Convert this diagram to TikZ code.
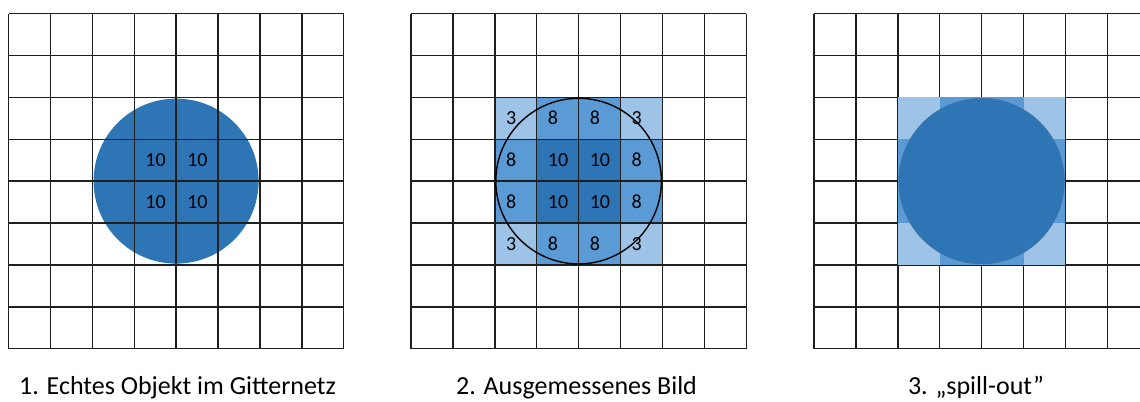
\documentclass[tikz,border=0pt]{standalone}
\usepackage{fontspec}
\setmainfont{Carlito}
\definecolor{dkblue}{HTML}{2E75B6}
\definecolor{mdblue}{HTML}{5B9BD5}
\definecolor{ltblue}{HTML}{9DC3E6}
\definecolor{rimblue}{HTML}{4472A0}
\newcommand\cs{41.9}
\newcommand\gy{13.5}
\newcommand\mygrid[1]{%
  \foreach \i in {0,...,8} {%
    \draw[gridline] ({#1+\i*\cs},\gy) -- ({#1+\i*\cs},{\gy+8*\cs});
    \draw[gridline] (#1,{\gy+\i*\cs}) -- ({#1+8*\cs},{\gy+\i*\cs});
  }}
\newcommand\mycell[4]{\fill[#4] ({#1+#2*\cs},{\gy+#3*\cs}) rectangle ++(\cs,\cs);}
\newcommand\myblock[1]{%
  \fill[mdblue] ({#1+2*\cs},{\gy+2*\cs}) rectangle ++({4*\cs},{4*\cs});
  \mycell{#1}{2}{2}{ltblue}\mycell{#1}{5}{2}{ltblue}
  \mycell{#1}{2}{5}{ltblue}\mycell{#1}{5}{5}{ltblue}
  \fill[dkblue] ({#1+3*\cs},{\gy+3*\cs}) rectangle ++({2*\cs},{2*\cs});}
\begin{document}
\begin{tikzpicture}[x=1bp,y=-1bp,
  gridline/.style={line width=1.4bp,draw=black!88},
  num/.style={anchor=base west,inner sep=0pt,font=\fontsize{20bp}{23bp}\selectfont},
  caption/.style={anchor=base,inner sep=0pt,font=\fontsize{26bp}{30bp}\selectfont}]
\useasboundingbox (0,0) rectangle (1140,401);
\clip (0,0) rectangle (1140,401);
\fill[white] (0,0) rectangle (1140,401);
% ---- panel 1
\fill[dkblue] ({8.5+4*\cs},{\gy+4*\cs}) circle[radius=82.5];
\mygrid{8.5}
\foreach \c/\r in {3/3,4/3,3/4,4/4}
  \node[num] (a-\c-\r) at ({8.5+\c*\cs+11},{\gy+(\r+0.5)*\cs+6.5}) {10};
\node[caption] (cap1) at (177.5,394.5) {1. Echtes Objekt im Gitternetz};
% ---- panel 2
\myblock{411}
\mygrid{411}
\draw[line width=1.4bp,black] ({411+4*\cs},{\gy+4*\cs}) circle[radius=82.8];
\foreach \c/\r/\t in {2/2/3,3/2/8,4/2/8,5/2/3,
                      2/3/8,3/3/10,4/3/10,5/3/8,
                      2/4/8,3/4/10,4/4/10,5/4/8,
                      2/5/3,3/5/8,4/5/8,5/5/3}
  \node[num] (b-\c-\r) at ({411+\c*\cs+11},{\gy+(\r+0.5)*\cs+6.5}) {\t};
\node[caption] (cap2) at (576.5,394.5) {2. Ausgemessenes Bild};
% ---- panel 3
\mygrid{814}
\myblock{814}
\fill[dkblue,draw=rimblue,line width=0.6bp] ({814+4*\cs},{\gy+4*\cs}) circle[radius=82.8];
\node[caption] (cap3) at (976,394.5) {3. „spill-out”};
\end{tikzpicture}
\end{document}
